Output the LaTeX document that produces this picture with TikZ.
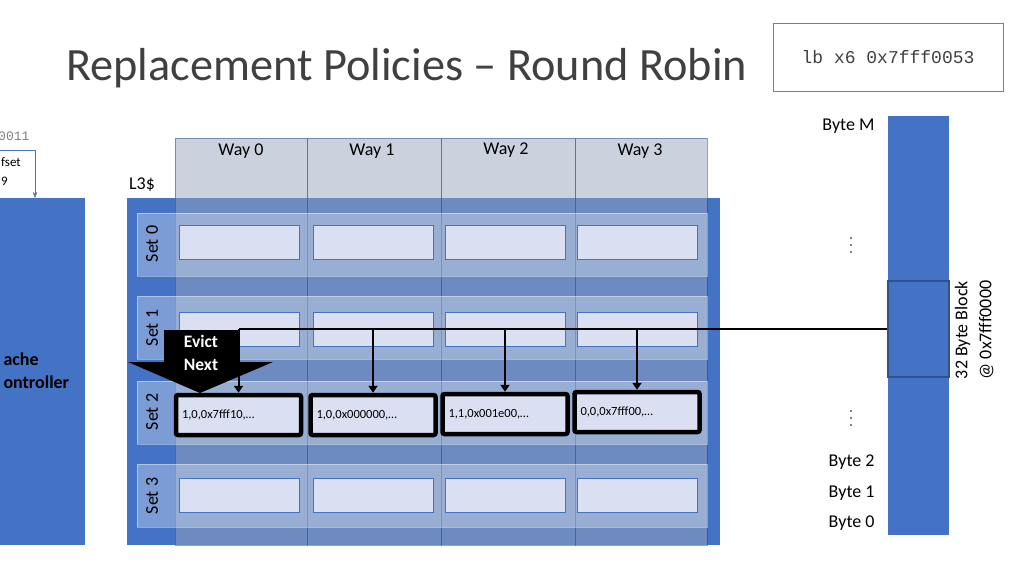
\documentclass[tikz,border=0pt]{standalone}
\usepackage{fontspec}
\setmainfont{Carlito}
\setmonofont{Liberation Mono}
\usepackage{tikz}
\usetikzlibrary{arrows.meta, positioning, calc}
\definecolor{cacheblue}{RGB}{68,114,196}
\definecolor{colgray}{RGB}{150,165,190}
\definecolor{colline}{RGB}{40,70,140}
\definecolor{entryfill}{RGB}{218,224,242}
\definecolor{memline}{RGB}{47,82,143}
\definecolor{titlegray}{RGB}{64,64,64}
\tikzset{
    cachebox/.style={rectangle, fill=cacheblue, inner sep=0pt, anchor=north west},
    waycol/.style={rectangle, draw=colline, fill=colgray, opacity=0.5, inner sep=0pt, anchor=north west, minimum height=407pt},
    setrow/.style={rectangle, draw=white, fill=white, fill opacity=0.3, draw opacity=0.4, inner sep=0pt, anchor=north west, minimum width=570pt, minimum height=63pt},
    entrybox/.style={rectangle, draw=cacheblue, fill=entryfill, thin, minimum width=120pt, minimum height=34pt, inner sep=0pt},
    pickedbox/.style={rectangle, draw=black, line width=4.5pt, rounded corners=2pt, fill=entryfill, minimum height=40pt, text width=113pt, inner xsep=6pt, align=left, font=\fontsize{12.5}{14}\selectfont},
    bus/.style={line width=2.5pt, black},
    busarrow/.style={line width=2pt, black, -{Triangle[length=7pt, width=9pt]}},
    lbl/.style={font=\fontsize{18}{21}\selectfont},
    dot/.style={circle, fill=black, inner sep=0pt, minimum size=1.6pt}
}

\begin{document}
\begin{tikzpicture}[x=1pt, y=-1pt]
\useasboundingbox (0,0) rectangle (1024,576);

% title and instruction
\node[anchor=base west, inner sep=0pt, text=titlegray, font=\fontsize{46.3}{55}\selectfont] (title) at (66,80) {Replacement Policies – Round Robin};
\node[draw=gray, minimum width=230pt, minimum height=68pt, text=darkgray, font=\ttfamily\fontsize{18}{20}\selectfont] (instr) at (888,57) {lb x6 0x7fff0053};

% cache controller, cut off at the left edge
\node[cachebox, minimum width=85pt, minimum height=347pt] (ctrl) at (0,198) {};
\node[anchor=west, align=left, font=\bfseries\fontsize{18}{23}\selectfont] (ctrltxt) at (0,371) {ache\\ontroller};
\node[anchor=west, inner sep=0pt, text=gray, font=\ttfamily\fontsize{13}{15}\selectfont] (addr) at (-2,136) {0011};
\node[anchor=west, align=left, inner sep=1pt, font=\fontsize{13}{19}\selectfont] (ofstxt) at (0,172) {fset\\9};
\coordinate (ofs) at (0,150);
\draw[cacheblue, thin, -{Stealth[length=6pt]}] (ofs) -| ([xshift=35pt]ctrl.north west);

% L3 cache
\node[lbl] (l3) at (142,185) {L3\$};
\node[cachebox, minimum width=593pt, minimum height=347pt] (cache) at (127,198) {};
\node[waycol, minimum width=132pt] (way0) at (175,138) {};
\node[waycol, minimum width=134pt] (way1) at (307,138) {};
\node[waycol, minimum width=134pt] (way2) at (441,138) {};
\node[waycol, minimum width=132pt] (way3) at (575,138) {};
\node[lbl] (w0) at (241,151) {Way 0};
\node[lbl] (w1) at (372,151) {Way 1};
\node[lbl] (w2) at (506,150) {Way 2};
\node[lbl] (w3) at (640,151) {Way 3};

\node[setrow] (set0) at (137,213) {};
\node[setrow] (set1) at (137,296) {};
\node[setrow] (set2) at (137,381) {};
\node[setrow] (set3) at (137,464) {};
\node[lbl, rotate=90] (s0) at (152,244) {Set 0};
\node[lbl, rotate=90] (s1) at (152,328) {Set 1};
\node[lbl, rotate=90] (s2) at (152,412) {Set 2};
\node[lbl, rotate=90] (s3) at (152,496) {Set 3};

\foreach \r/\y in {0/242, 1/329, 3/495} {
    \foreach \c/\x in {0/239.5, 1/373.5, 2/505, 3/637} {
        \node[entrybox] (e\r\c) at (\x,\y) {};
    }
}

% the set being filled
\node[pickedbox] (e20) at (238.5,415) {1,0,0x7fff10,…};
\node[pickedbox] (e21) at (373,415) {1,0,0x000000,…};
\node[pickedbox] (e22) at (505,414) {1,1,0x001e00,…};
\node[pickedbox] (e23) at (637,412) {0,0,0x7fff00,…};

% memory
\node[cachebox, minimum width=61pt, minimum height=419pt] (mem) at (888,116) {};
\node[rectangle, draw=memline, line width=1.5pt, minimum width=61pt, minimum height=96pt, inner sep=0pt] (blk) at (918.5,329) {};
\node[lbl, anchor=east] (bm) at (878,126) {Byte M};
\foreach \k/\y in {a/238, b/245, c/252, d/411, e/418, f/425} {
    \node[dot] (dot\k) at (851,\y) {};
}
\node[lbl, anchor=east] (b2) at (878,462) {Byte 2};
\node[lbl, anchor=east] (b1) at (878,493) {Byte 1};
\node[lbl, anchor=east] (b0) at (878,523) {Byte 0};
\node[rotate=90, align=center, font=\fontsize{18}{24}\selectfont] (blktxt) at (974,330) {32 Byte Block\\@ 0x7fff0000};

% block to all ways of set 2
\draw[bus] (blk.west) -- (e20.north |- blk.west);
\foreach \c in {0,...,3} {
    \draw[busarrow] (e2\c.north |- blk.west) -- (e2\c.north);
}

% evict next marker
\fill[black] (164,330) -- (239,330) -- (239,362) -- (273,362) -- (200,393) -- (128,362) -- (164,362) -- cycle;
\node[text=white, align=center, font=\bfseries\fontsize{17.5}{23}\selectfont] (evict) at (201,353) {Evict\\Next};
\end{tikzpicture}
\end{document}
